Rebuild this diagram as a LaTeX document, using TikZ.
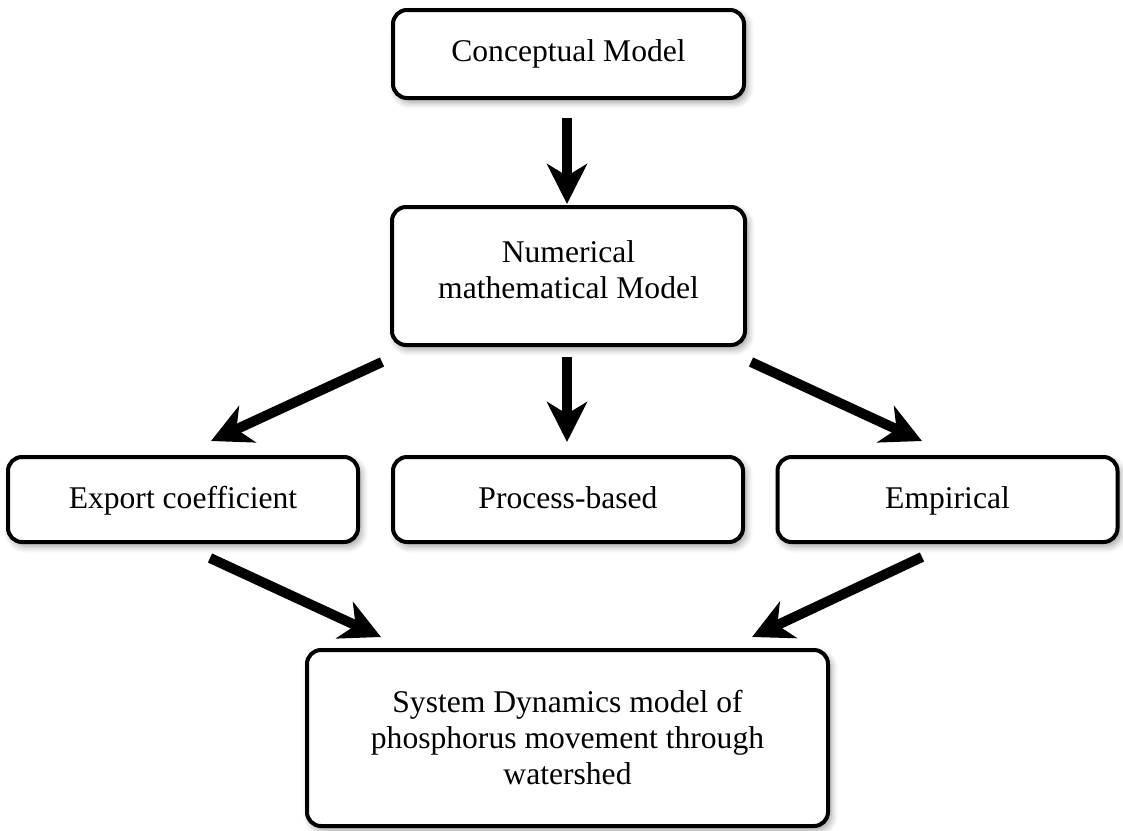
\documentclass[tikz,border=0pt]{standalone}
\usepackage{fontspec}
\setmainfont{Liberation Serif}
\usetikzlibrary{arrows.meta,shadows.blur}
\begin{document}
\begin{tikzpicture}[x=0.5pt,y=-0.5pt,
  txt/.style={font=\fontsize{15.8pt}{18pt}\selectfont,align=center},
  box/.style={draw=black,line width=2pt,rounded corners=7pt,fill=white,txt,inner sep=0pt,
    blur shadow={shadow xshift=1.5pt,shadow yshift=-2pt,shadow blur steps=6,shadow opacity=40,shadow blur radius=3.5pt}},
  midbox/.style={box,minimum height=42.5pt,text height=11pt,text depth=2.5pt},
  conn/.style={line width=5pt,-{Stealth[length=20pt,width=20pt,inset=6pt]}}]
\path[use as bounding box] (0,0) rectangle (1123,830);
\node[box,minimum width=175.5pt,minimum height=44pt] (concept) at (568.5,54) {Conceptual Model};
\node[box,minimum width=176.5pt,minimum height=69pt,
  label={[txt,yshift=3pt,inner sep=0pt]center:Numerical\\mathematical Model}] (numer) at (568.5,276) {};
\node[midbox,minimum width=175pt] (export) at (183,499.5) {Export coefficient};
\node[midbox,minimum width=175pt] (process) at (568,499.5) {Process-based};
\node[midbox,minimum width=170pt] (empir) at (947.5,499.5) {Empirical};
\node[box,minimum width=260.5pt,minimum height=88pt] (final) at (567.5,738) {System Dynamics model of\\phosphorus movement through\\watershed};
\coordinate (a1s) at (567,118);
\coordinate (a1e) at (567,204);
\coordinate (a2s) at (567,357);
\coordinate (a2e) at (567,442);
\coordinate (a3s) at (382,362);
\coordinate (a3e) at (211,441);
\coordinate (a4s) at (751,362);
\coordinate (a4e) at (922,441);
\coordinate (a5s) at (210,558);
\coordinate (a5e) at (381,637);
\coordinate (a6s) at (922,557);
\coordinate (a6e) at (752,637);
\draw[conn] (a1s) -- (a1e);
\draw[conn] (a2s) -- (a2e);
\draw[conn] (a3s) -- (a3e);
\draw[conn] (a4s) -- (a4e);
\draw[conn] (a5s) -- (a5e);
\draw[conn] (a6s) -- (a6e);
\end{tikzpicture}
\end{document}
